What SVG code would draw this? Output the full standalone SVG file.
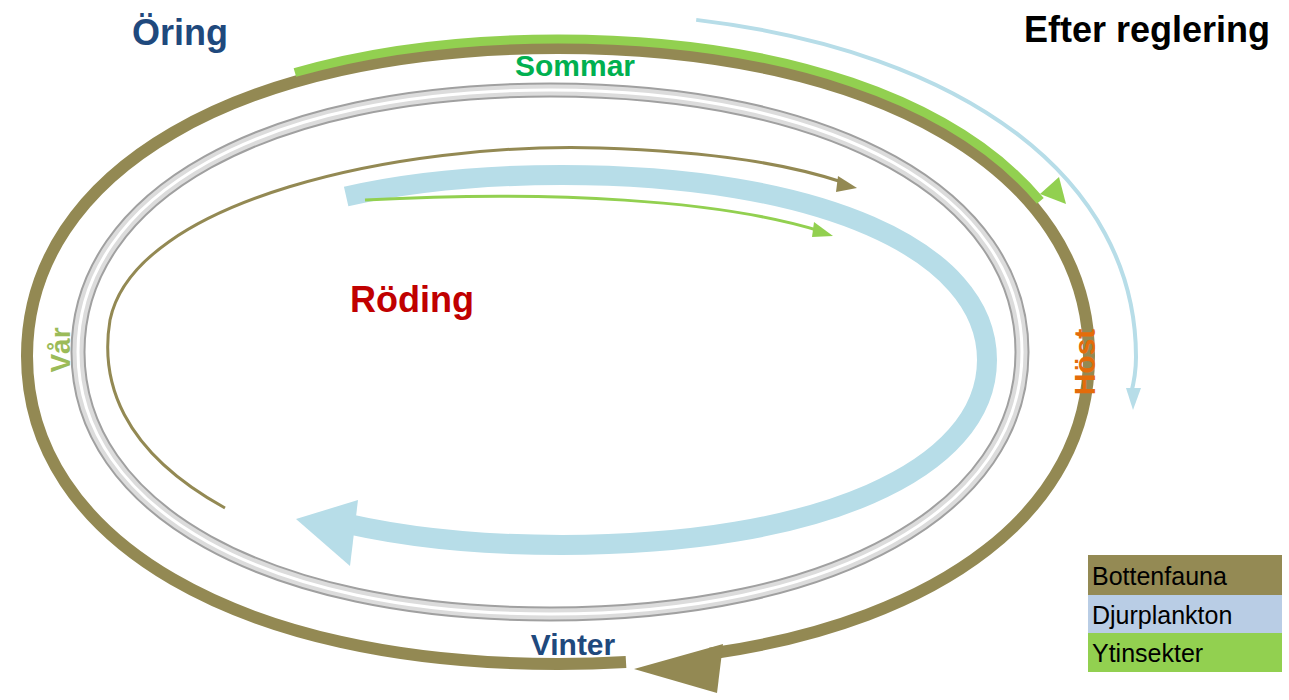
<svg xmlns="http://www.w3.org/2000/svg" width="1289" height="700" viewBox="0 0 1289 700">
<style>
.t{font-family:"Liberation Sans",Arial,sans-serif;font-weight:bold}
.l{font-family:"Liberation Sans",Arial,sans-serif;font-size:25px;fill:#000}
</style>
<rect width="1289" height="700" fill="#fff"/>
<g id="grey-ring" fill="none">
<path d="M550,614 C266.8,614 78,509.2 78,352 C78,194.8 266.8,90 550,90 C833.2,90 1022,194.8 1022,352 C1022,509.2 833.2,614 550,614Z" stroke="#a0a0a0" stroke-width="15"/>
<path d="M550,614 C266.8,614 78,509.2 78,352 C78,194.8 266.8,90 550,90 C833.2,90 1022,194.8 1022,352 C1022,509.2 833.2,614 550,614Z" stroke="#dcdcdc" stroke-width="11"/>
<path d="M550,614 C266.8,614 78,509.2 78,352 C78,194.8 266.8,90 550,90 C833.2,90 1022,194.8 1022,352 C1022,509.2 833.2,614 550,614Z" stroke="#fff" stroke-width="3"/>
</g>
<g id="connectors" fill="none">
<path id="bottenfauna-outer" pathLength="100" stroke-dasharray="94.4 3.1 100" d="M558,664 C239.4,664 27,540.8 27,356 C27,171.2 239.4,48 558,48 C876.6,48 1089,171.2 1089,356 C1089,540.8 876.6,664 558,664Z" stroke="#938953" stroke-width="12"/>
<polygon points="634,669 723,644 717,693" fill="#938953"/>
<path id="ytinsekter-outer" pathLength="100" stroke-dasharray="0 40.4 28.5 31.1" d="M558,673 C234,673 18,546.2 18,356 C18,165.8 234,39 558,39 C882,39 1098,165.8 1098,356 C1098,546.2 882,673 558,673Z" stroke="#92D050" stroke-width="9"/>
<polygon points="1066,204 1059,177 1040,194" fill="#92D050"/>
<path id="djurplankton-outer" pathLength="100" stroke-dasharray="0 54.7 21.9 23.4" d="M558,702 C211.2,702 -20,495 -20,357 C-20,150 211.2,12 558,12 C904.8,12 1136,150 1136,357 C1136,495 904.8,702 558,702Z" stroke="#B7DDE8" stroke-width="4"/>
<polygon points="1133,410 1126,388 1141,388" fill="#B7DDE8"/>
<path id="djurplankton-inner" pathLength="100" stroke-dasharray="11.8 27.4 60.8" d="M562,545 C307,545 137,471 137,360 C137,249 307,175 562,175 C817,175 987,249 987,360 C987,471 817,545 562,545Z" stroke="#B7DDE8" stroke-width="20"/>
<polygon points="296,519 358,500 350,566" fill="#B7DDE8"/>
<path id="bottenfauna-inner" d="M225,508 C120,450 100,380 110,320 C135,200 400,142 600,148 C720,152 790,165 842,182" stroke="#938953" stroke-width="3"/>
<polygon points="857,188 838,176 836,192" fill="#938953"/>
<path id="ytinsekter-inner" d="M365,200 C550,190 720,200 820,231" stroke="#92D050" stroke-width="3"/>
<polygon points="833,236 814,222 812,237" fill="#92D050"/>
</g>
<g id="labels">
<text class="t" x="180" y="45" font-size="36" fill="#1F497D" text-anchor="middle">Öring</text>
<text class="t" x="1270" y="42" font-size="36" fill="#000" text-anchor="end">Efter reglering</text>
<text class="t" x="575" y="76" font-size="30" fill="#00B050" text-anchor="middle">Sommar</text>
<text class="t" x="412" y="312" font-size="36" fill="#C00000" text-anchor="middle">Röding</text>
<text class="t" transform="translate(70,350) rotate(-90)" font-size="28" fill="#9BBB59" text-anchor="middle">Vår</text>
<text class="t" transform="translate(1095,362) rotate(-90)" font-size="30" fill="#E46C0A" text-anchor="middle">Höst</text>
<text class="t" x="573" y="655" font-size="30" fill="#1F497D" text-anchor="middle">Vinter</text>
</g>
<g id="legend">
<rect x="1088" y="555" width="194" height="40" fill="#948A54"/>
<rect x="1088" y="595" width="194" height="38" fill="#B9CDE5"/>
<rect x="1088" y="633" width="194" height="39" fill="#92D050"/>
<text class="l" x="1092" y="585">Bottenfauna</text>
<text class="l" x="1092" y="624">Djurplankton</text>
<text class="l" x="1092" y="662">Ytinsekter</text>
</g>
</svg>
